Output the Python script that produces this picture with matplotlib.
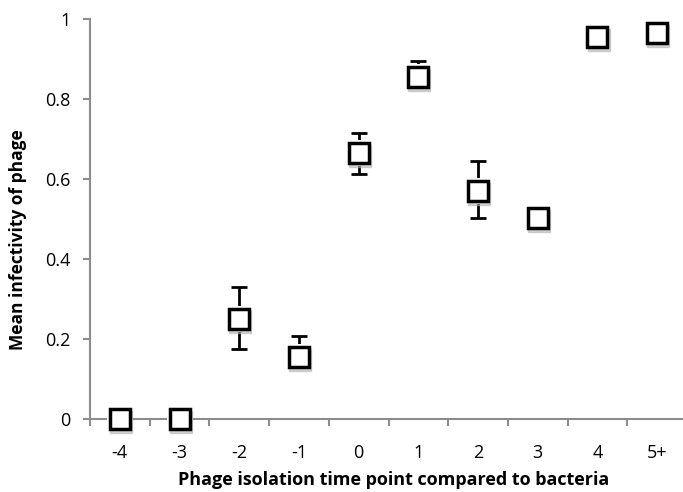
import matplotlib
matplotlib.use("Agg")
import matplotlib.pyplot as plt
import matplotlib.transforms as mtransforms
import numpy as np

categories = ["-4", "-3", "-2", "-1", "0", "1", "2", "3", "4", "5+"]
means = [0.0, 0.0, 0.25, 0.155, 0.665, 0.855, 0.57, 0.502, 0.955, 0.965]
err_upper = [0.0, 0.0, 0.08, 0.052, 0.048, 0.04, 0.075, 0.0, 0.0, 0.0]
err_lower = [0.0, 0.0, 0.077, 0.0, 0.053, 0.0, 0.068, 0.0, 0.0, 0.0]
yticks = [0, 0.2, 0.4, 0.6, 0.8, 1]
ytick_labels = ["0", "0.2", "0.4", "0.6", "0.8", "1"]

plt.rcParams['font.family'] = ['Open Sans', 'DejaVu Sans']

fig = plt.figure(figsize=(6.83, 4.92), dpi=100)
ax = fig.add_axes([90/683, (492-418.5)/492, 597/683, 400/492])

x = np.arange(len(categories))
axis_color = "#8c8c8c"

# error bars
ax.errorbar(x, means, yerr=[err_lower, err_upper], fmt="none", ecolor="black",
            elinewidth=2, capsize=6, capthick=2, zorder=2)

# white halo around markers (gap between marker and error bar)
ax.plot(x, means, linestyle="none", marker="s", markersize=19, markerfacecolor="white",
        markeredgecolor="white", markeredgewidth=0, zorder=3, clip_on=False)

# shadow
shadow_tr = mtransforms.offset_copy(ax.transData, fig=fig, x=0.8, y=-2.5, units="points")
ax.plot(x, means, linestyle="none", marker="s", markersize=16, markerfacecolor="#b0b0b0",
        markeredgecolor="#b0b0b0", alpha=0.55, transform=shadow_tr, zorder=3.5, clip_on=False)

# markers
ax.plot(x, means, linestyle="none", marker="s", markersize=14.5, markerfacecolor="white",
        markeredgecolor="black", markeredgewidth=2.5, zorder=4, clip_on=False)

ax.set_xlim(-0.5, len(categories) - 0.5)
ax.set_ylim(0, 1)

ax.set_xticks(x)
ax.set_xticklabels(categories, fontsize=13)
ax.set_xticks(np.arange(len(categories) + 1) - 0.5, minor=True)
ax.tick_params(axis="x", which="major", length=0, pad=18)
ax.tick_params(axis="x", which="minor", length=5, width=1.5, color=axis_color, direction="out")

ax.set_yticks(yticks)
ax.set_yticklabels(ytick_labels, fontsize=13)
ax.tick_params(axis="y", length=5, width=1.5, color=axis_color, direction="out", pad=9)

for side in ["top", "right"]:
    ax.spines[side].set_visible(False)
for side in ["left", "bottom"]:
    ax.spines[side].set_color(axis_color)
    ax.spines[side].set_linewidth(1.5)

ax.set_xlabel("Phage isolation time point compared to bacteria", fontsize=13,
              fontweight="bold", va="center")
ax.xaxis.set_label_coords((394 - 90) / 597, -(480 - 418.5) / 400)
ax.set_ylabel("Mean infectivity of phage", fontsize=12.5, fontweight="bold", va="center")
ax.yaxis.set_label_coords(-(90 - 18) / 597, (418.5 - 240) / 400)

fig.savefig("out.png", dpi=100)
